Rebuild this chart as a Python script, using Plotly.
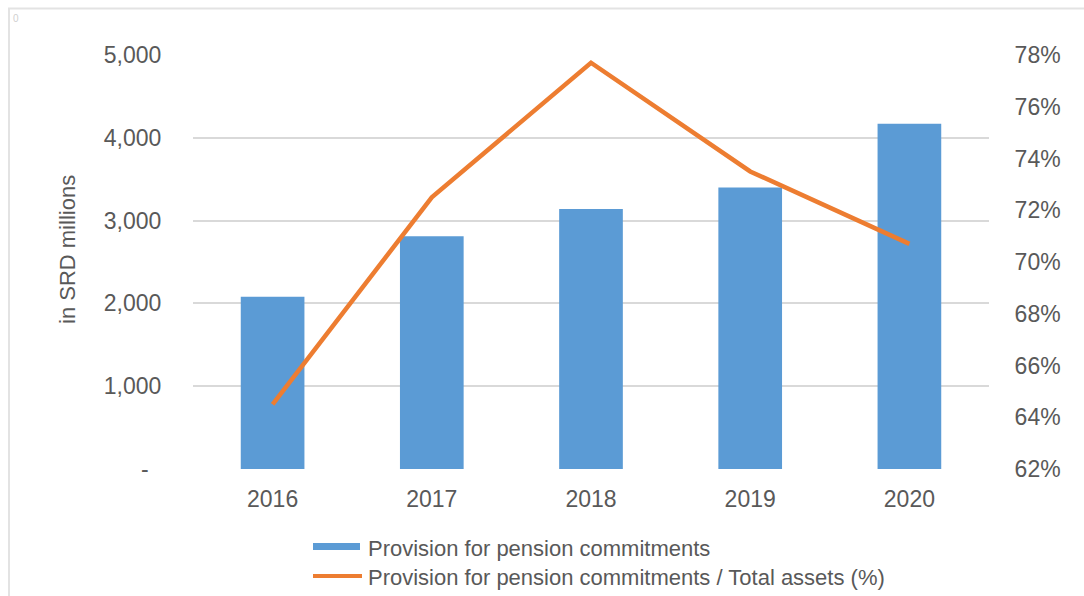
import plotly.graph_objects as go

# Data
years = ["2016", "2017", "2018", "2019", "2020"]
provision_srd_mln = [2080, 2810, 3140, 3400, 4170]
provision_share_pct = [64.5, 72.5, 77.7, 73.5, 70.7]

left_tick_vals = [0, 1000, 2000, 3000, 4000, 5000]
left_tick_text = ["-\u00a0\u00a0", "1,000", "2,000", "3,000", "4,000", "5,000"]
right_tick_vals = [62, 64, 66, 68, 70, 72, 74, 76, 78]

bar_name = "Provision for pension commitments"
line_name = "Provision for pension commitments / Total assets (%)"

BLUE = "#5B9BD5"
ORANGE = "#ED7D31"
TEXT = "#595959"
GRID = "#D9D9D9"
FONT = "Liberation Sans, Arial, sans-serif"

W, H = 1084, 596
L, R, T, B = 193, 989, 55, 469  # plot area in pixels


def px(x):
    return (x - L) / (R - L)


def py(y):
    return (B - y) / (B - T)


fig = go.Figure()
fig.add_trace(go.Bar(x=years, y=provision_srd_mln, name=bar_name,
                     marker=dict(color=BLUE, line=dict(width=0)),
                     yaxis="y", showlegend=False))
fig.add_trace(go.Scatter(x=years, y=provision_share_pct, name=line_name,
                         mode="lines", line=dict(color=ORANGE, width=4.5),
                         yaxis="y2", showlegend=False))

shapes = [
    # outer frame (top and left edges)
    dict(type="line", xref="paper", yref="paper", x0=px(8), x1=px(1084),
         y0=py(8.5), y1=py(8.5), line=dict(color="#E3E3E3", width=2)),
    dict(type="line", xref="paper", yref="paper", x0=px(9), x1=px(9),
         y0=py(8), y1=py(596), line=dict(color="#E3E3E3", width=2)),
    # legend keys
    dict(type="rect", xref="paper", yref="paper", x0=px(313), x1=px(360),
         y0=py(543), y1=py(550), fillcolor=BLUE, line=dict(width=0)),
    dict(type="line", xref="paper", yref="paper", x0=px(313), x1=px(362),
         y0=py(576), y1=py(576), line=dict(color=ORANGE, width=4)),
]

annotations = [
    dict(text="in SRD millions", xref="paper", yref="paper", x=px(67), y=py(250),
         textangle=-90, showarrow=False, xanchor="center", yanchor="middle",
         font=dict(size=22, color=TEXT, family=FONT)),
    dict(text=bar_name, xref="paper", yref="paper", x=px(366), y=py(548),
         showarrow=False, xanchor="left", yanchor="middle",
         font=dict(size=22, color=TEXT, family=FONT)),
    dict(text=line_name, xref="paper", yref="paper", x=px(366), y=py(577),
         showarrow=False, xanchor="left", yanchor="middle",
         font=dict(size=22, color=TEXT, family=FONT)),
    dict(text="0", xref="paper", yref="paper", x=px(11), y=py(18),
         showarrow=False, xanchor="left", yanchor="middle",
         font=dict(size=10, color="#D0D0D0", family=FONT)),
]

fig.update_layout(
    width=W, height=H,
    margin=dict(l=L, r=W - R, t=T, b=H - B, pad=0),
    paper_bgcolor="white", plot_bgcolor="white",
    bargap=0.6,
    font=dict(family=FONT, color=TEXT, size=23),
    xaxis=dict(showgrid=False, showline=False, zeroline=False,
               ticks="outside", ticklen=9, tickcolor="rgba(0,0,0,0)",
               tickfont=dict(size=23, color=TEXT)),
    yaxis=dict(range=[0, 5000], tickvals=left_tick_vals, ticktext=left_tick_text,
               showgrid=True, gridcolor=GRID, gridwidth=1.5, zeroline=False,
               showline=False, ticks="outside", ticklen=26,
               tickcolor="rgba(0,0,0,0)", tickfont=dict(size=23, color=TEXT)),
    yaxis2=dict(range=[62, 78], tickvals=right_tick_vals,
                ticktext=[f"{v}%" for v in right_tick_vals],
                overlaying="y", side="right", showgrid=False, zeroline=False,
                showline=False, ticks="outside", ticklen=20,
                tickcolor="rgba(0,0,0,0)", tickfont=dict(size=23, color=TEXT)),
    shapes=shapes,
    annotations=annotations,
)

fig.write_html("out.html")
